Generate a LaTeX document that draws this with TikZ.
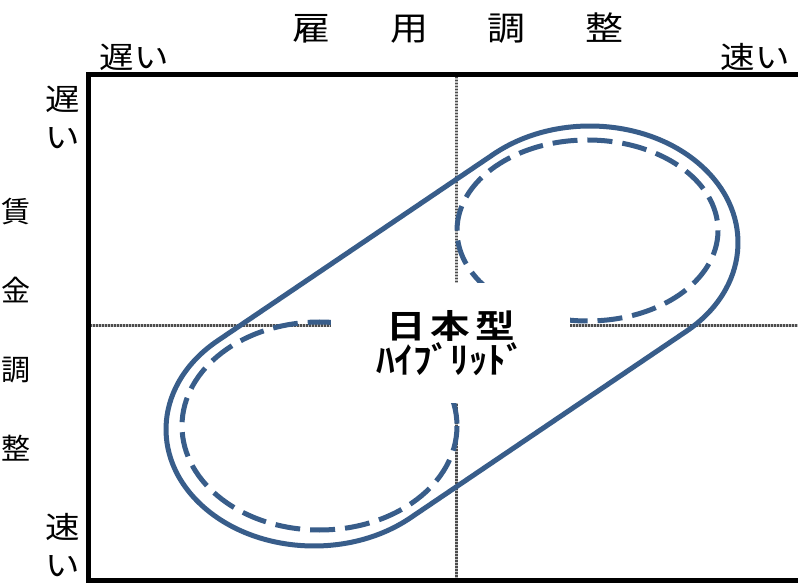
\documentclass[tikz,border=0pt]{standalone}
\usepackage{fontspec}
\setmainfont{Noto Sans CJK JP}[BoldFont={Noto Sans CJK JP Bold}]
\newfontfamily\labfont{Noto Sans CJK JP}[FakeStretch=1.15]
\newfontfamily\midfont{Noto Sans CJK JP Bold}[FakeStretch=1.2]
\newfontfamily\katafont{Noto Sans CJK JP Bold}[FakeStretch=1.03]
\usetikzlibrary{calc}
\definecolor{shapeblue}{RGB}{56,93,138}
\begin{document}
\begin{tikzpicture}[x=1pt,y=-1pt,
  outline/.style={draw=shapeblue, line width=5pt},
  dashring/.style={draw=shapeblue, line width=5pt, dash pattern=on 25pt off 10pt},
  axisline/.style={draw=gray!50, line width=3pt},
  axisdots/.style={draw=black!70, line width=3pt, dash pattern=on 1.5pt off 1.5pt},
  framestyle/.style={draw=black, line width=5pt},
  lbl/.style={inner sep=0pt, font=\labfont\fontsize{30}{38}\selectfont, align=center},
]
\useasboundingbox (0,0) rectangle (798,585);
\fill[white] (0,0) rectangle (798,585);
% axes
\coordinate (hL) at (90,326); \coordinate (hR) at (798,326);
\coordinate (vT) at (456.5,77); \coordinate (vB) at (456.5,578);
\draw[axisline] (hL) -- (hR); \draw[axisdots] (hL) -- (hR);
\draw[axisline] (vT) -- (vB); \draw[axisdots] (vT) -- (vB);
% dashed loops
\coordinate (U) at (587.5,230.5); \coordinate (L) at (319.5,426);
\draw[dashring] (U) ellipse [x radius=130.5, y radius=90.5];
\draw[dashring] (L) ellipse [x radius=137.5, y radius=104];
% centre label (white box hides the loop ends and axes)
\node[fill=white, minimum width=239pt, minimum height=120pt, inner sep=0pt, align=center] (hybrid) at (450.5,343)
  {\midfont\fontsize{33}{42}\selectfont 日\hspace{5pt}本\hspace{5pt}型\\[0pt]\katafont\fontsize{36}{42}\selectfont ﾊｲﾌﾞﾘｯﾄﾞ};
% outer solid loop: hull of two equal ellipses
\coordinate (E1) at (590,242.7); \coordinate (E2) at (314,429.3);
\draw[outline] ($(E2)+(229.4:148 and 116.7)$) -- ($(E1)+(229.4:148 and 116.7)$)
  arc[start angle=229.4,end angle=409.4,x radius=148,y radius=116.7]
  -- ($(E2)+(49.4:148 and 116.7)$)
  arc[start angle=49.4,end angle=229.4,x radius=148,y radius=116.7] -- cycle;
% frame
\coordinate (fTR) at (798,74.5); \coordinate (fTL) at (88.5,74.5);
\coordinate (fBL) at (88.5,580.5); \coordinate (fBR) at (798,580.5);
\draw[framestyle] (fTR) -- (fTL) -- (fBL) -- (fBR);
% labels
\node[lbl, font=\labfont\fontsize{33}{33}\selectfont] (title) at (458,28) {雇\hspace{60pt}用\hspace{60pt}調\hspace{60pt}整};
\node[lbl] (xslow) at (134,57) {遅い};
\node[lbl] (xfast) at (755,57) {速い};
\node[lbl] (yslow) at (63,117) {遅\\い};
\node[lbl] (yfast) at (63,545) {速\\い};
\node[lbl, font=\fontsize{29}{79}\selectfont] (ylabel) at (16,330) {賃\\金\\調\\整};
\end{tikzpicture}
\end{document}
